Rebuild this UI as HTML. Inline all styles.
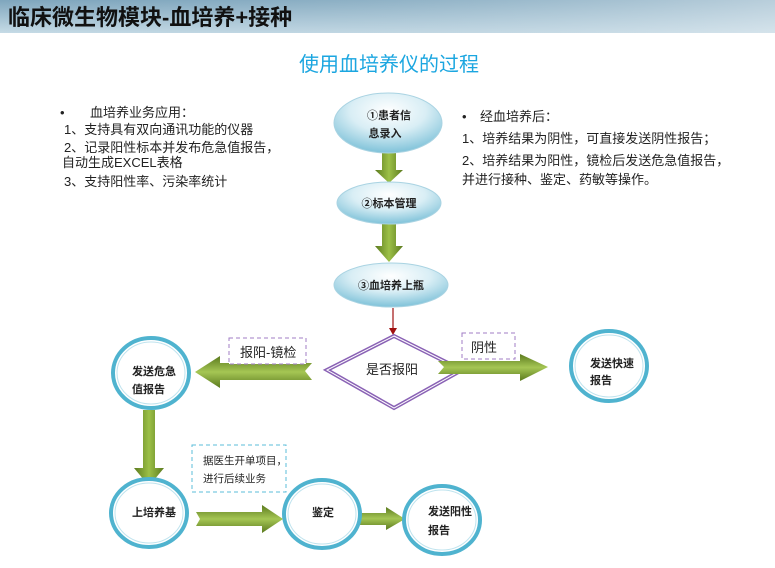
<!DOCTYPE html>
<html><head><meta charset="utf-8"><style>
html,body{margin:0;padding:0;background:#fff;}
body{width:775px;height:568px;overflow:hidden;position:relative;font-family:"Liberation Sans","Noto Sans CJK SC",sans-serif;}
</style></head><body>
<svg width="775" height="568" xmlns="http://www.w3.org/2000/svg" style="position:absolute;left:0;top:0">
<defs>
<linearGradient id="hd" x1="0" y1="0" x2="0" y2="1"><stop offset="0" stop-color="#7fa6bd"/><stop offset="1" stop-color="#c6dbe6"/></linearGradient>
<linearGradient id="hd2" x1="0" y1="0" x2="1" y2="0"><stop offset="0" stop-color="#8fb3c8" stop-opacity="0"/><stop offset="1" stop-color="#dfe9ef" stop-opacity="0.6"/></linearGradient>
<radialGradient id="el" cx="0.5" cy="0.3" r="0.7"><stop offset="0" stop-color="#ffffff"/><stop offset="0.5" stop-color="#d9eef5"/><stop offset="1" stop-color="#7fc2d9"/></radialGradient>
<linearGradient id="gv" x1="0" y1="0" x2="1" y2="0"><stop offset="0" stop-color="#5b7a1e"/><stop offset="0.5" stop-color="#9cc047"/><stop offset="1" stop-color="#5b7a1e"/></linearGradient>
<linearGradient id="gh" x1="0" y1="0" x2="0" y2="1"><stop offset="0" stop-color="#5b7a1e"/><stop offset="0.5" stop-color="#a5c654"/><stop offset="1" stop-color="#5b7a1e"/></linearGradient>
</defs>
<rect x="0" y="0" width="775" height="33" fill="url(#hd)"/>
<rect x="0" y="0" width="775" height="33" fill="url(#hd2)"/>
<text x="8" y="25" font-size="22" font-weight="bold" fill="#111">临床微生物模块-血培养+接种</text>
<text x="389" y="71" font-size="20" fill="#1ba6e0" text-anchor="middle">使用血培养仪的过程</text>

<g font-size="13" fill="#222">
<text x="60" y="117">•</text><text x="90" y="117">血培养业务应用：</text>
<text x="64" y="134">1、支持具有双向通讯功能的仪器</text>
<text x="64" y="152">2、记录阳性标本并发布危急值报告，</text>
<text x="62" y="167">自动生成EXCEL表格</text>
<text x="64" y="186">3、支持阳性率、污染率统计</text>
<text x="462" y="121">•</text><text x="480" y="121">经血培养后：</text>
<text x="462" y="143">1、培养结果为阴性，可直接发送阴性报告；</text>
<text x="462" y="165">2、培养结果为阳性，镜检后发送危急值报告，</text>
<text x="462" y="184">并进行接种、鉴定、药敏等操作。</text>
</g>

<!-- top vertical arrows -->
<polygon points="382,153 396,153 396,170 403,170 389,183 375,170 382,170" fill="url(#gv)"/>
<polygon points="382,224 396,224 396,246 403,246 389,262 375,246 382,246" fill="url(#gv)"/>

<ellipse cx="388" cy="123" rx="54" ry="30" fill="url(#el)" stroke="#a9d3e2"/>
<ellipse cx="389" cy="203" rx="52" ry="21" fill="url(#el)" stroke="#a9d3e2"/>
<ellipse cx="391" cy="285" rx="57" ry="22" fill="url(#el)" stroke="#a9d3e2"/>
<g font-size="11" font-weight="bold" fill="#222" text-anchor="middle">
<text x="389" y="119">①患者信</text><text x="385" y="137">息录入</text>
<text x="389" y="207">②标本管理</text>
<text x="391" y="289">③血培养上瓶</text>
</g>

<line x1="393" y1="308" x2="393" y2="330" stroke="#a01010" stroke-width="1.2"/>
<polygon points="389,328 397,328 393,335" fill="#a01010"/>

<!-- diamond -->
<polygon points="394,336 462,370 394,408 327,370" fill="#fff" stroke="#8a62b5" stroke-width="4"/>
<polygon points="394,336 462,370 394,408 327,370" fill="none" stroke="#fff" stroke-width="1"/>
<text x="392" y="374" font-size="13" fill="#222" text-anchor="middle">是否报阳</text>

<!-- horizontal arrows -->
<polygon points="312,363 220,363 220,356 195,372 220,388 220,380 312,380 305,371" fill="url(#gh)"/>
<polygon points="438,361 520,361 520,354 548,367 520,381 520,374 438,374 444,367" fill="url(#gh)"/>
<polygon points="196,512 262,512 262,505 283,519 262,533 262,526 196,526 200,519" fill="url(#gh)"/>
<polygon points="360,513 386,513 386,507 405,519 386,530 386,525 360,525" fill="url(#gh)"/>
<polygon points="143,410 155,410 155,468 164,468 149,486 134,468 143,468" fill="url(#gv)"/>

<!-- dashed boxes -->
<rect x="229" y="338" width="77" height="26" fill="#fff" stroke="#a07cc6" stroke-dasharray="4,3"/>
<text x="240" y="357" font-size="13" fill="#222">报阳-镜检</text>
<rect x="462" y="333" width="53" height="26" fill="#fff" stroke="#a07cc6" stroke-dasharray="4,3"/>
<text x="471" y="352" font-size="13" fill="#222">阴性</text>
<rect x="192" y="445" width="94" height="47" fill="#fff" stroke="#5bbcd8" stroke-dasharray="4,3"/>
<text x="203" y="464" font-size="10.5" fill="#222">据医生开单项目，</text>
<text x="203" y="482" font-size="10.5" fill="#222">进行后续业务</text>

<!-- circle nodes -->
<g fill="#fff" stroke="#4fb3cf" stroke-width="4">
<ellipse cx="151" cy="373" rx="38" ry="35"/>
<ellipse cx="609" cy="366" rx="38" ry="35"/>
<ellipse cx="149" cy="513" rx="38" ry="34"/>
<ellipse cx="322" cy="514" rx="38" ry="34"/>
<ellipse cx="442" cy="520" rx="38" ry="34"/>
</g>
<g fill="none" stroke="#bfe3ee" stroke-width="1">
<ellipse cx="151" cy="373" rx="34" ry="31"/>
<ellipse cx="609" cy="366" rx="34" ry="31"/>
<ellipse cx="149" cy="513" rx="34" ry="30"/>
<ellipse cx="322" cy="514" rx="34" ry="30"/>
<ellipse cx="442" cy="520" rx="34" ry="30"/>
</g>
<g font-size="11" font-weight="bold" fill="#222">
<text x="132" y="375">发送危急</text><text x="132" y="393">值报告</text>
<text x="590" y="367">发送快速</text><text x="590" y="384">报告</text>
<text x="132" y="516">上培养基</text>
<text x="312" y="516">鉴定</text>
<text x="428" y="515">发送阳性</text><text x="428" y="534">报告</text>
</g>
</svg>
</body></html>
